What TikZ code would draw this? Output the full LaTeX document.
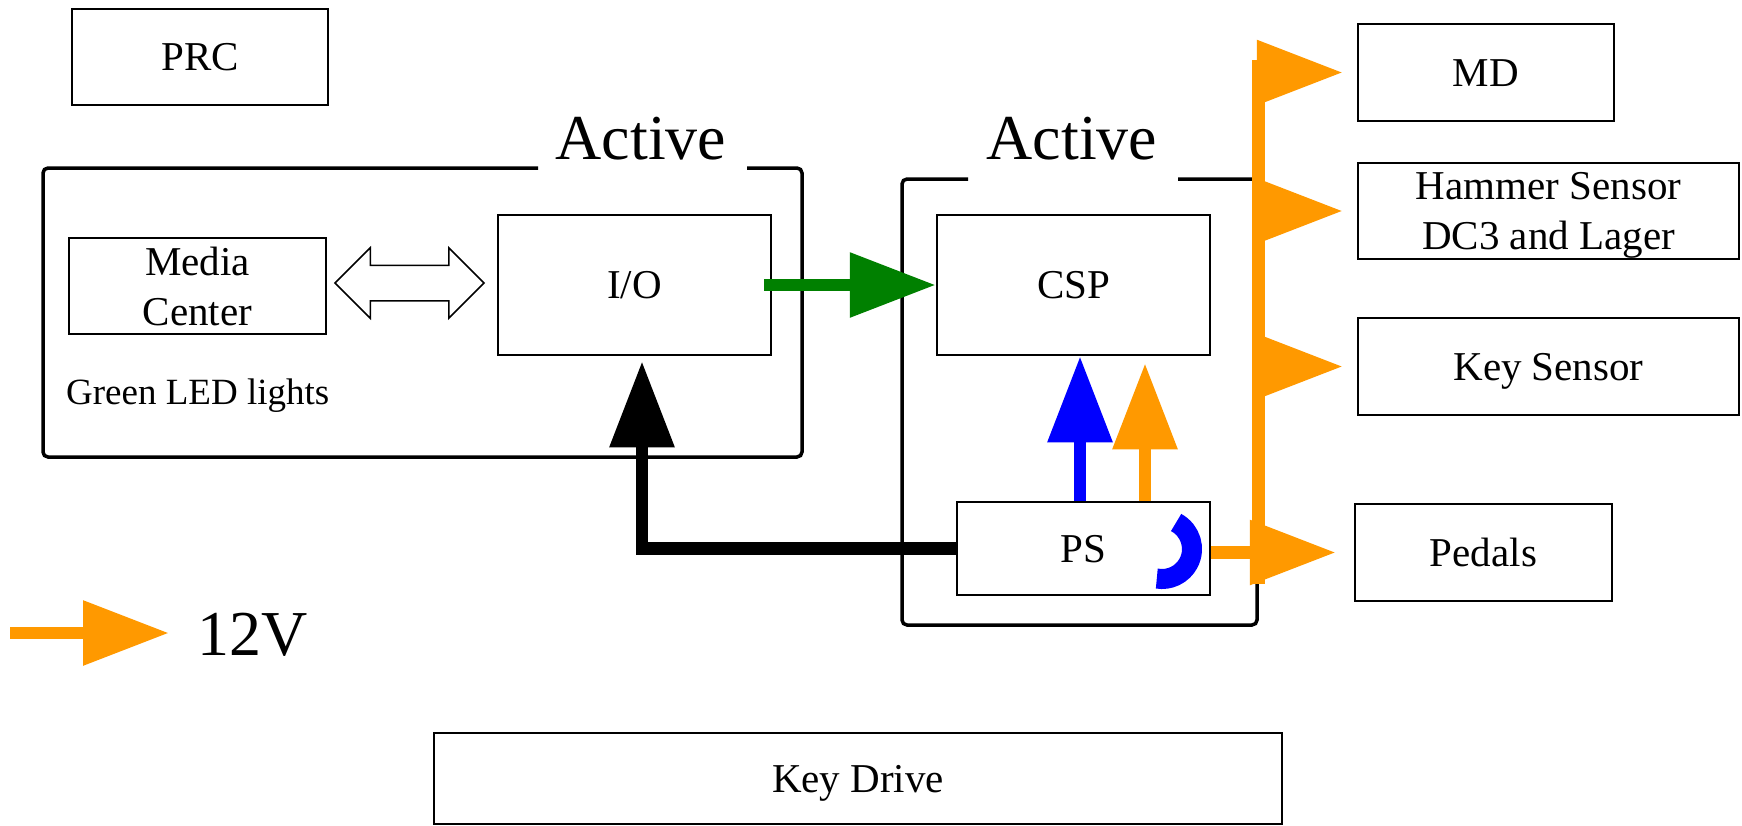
\documentclass[tikz,border=0pt]{standalone}
\usepackage{fontspec}
\setmainfont{Liberation Serif}
\usetikzlibrary{arrows.meta,shapes.arrows,calc}
\definecolor{orng}{RGB}{255,153,0}
\definecolor{grn}{RGB}{0,128,0}
\definecolor{blu}{RGB}{0,0,255}
\tikzset{
  box/.style={draw, line width=2.5pt, inner sep=0pt, font=\fontsize{41}{50}\selectfont, align=center, text depth=0pt},
  onebox/.style={box, text height=27pt},
  fat/.style={line width=12.5pt, -{Triangle[length=86pt,width=62pt]}},
  bigtxt/.style={font=\fontsize{64}{70}\selectfont, inner sep=0pt},
  container/.style={line width=3.5pt, rounded corners=5pt},
}
\begin{document}
\begin{tikzpicture}[x=1pt,y=-1pt]
\useasboundingbox (0,0) rectangle (1742,825);
\fill[white] (0,0) rectangle (1742,825);

% containers
\draw[container] (538,168) -- (43,168) -- (43,457) -- (802,457) -- (802,168) -- (747,168);
\draw[container] (968,179) -- (902,179) -- (902,625) -- (1257,625) -- (1257,179) -- (1178,179);
\node[bigtxt, anchor=base] (act1) at (641,159) {Active};
\node[bigtxt, anchor=base] (act2) at (1072,159) {Active};

% boxes
\node[onebox, minimum width=256pt, minimum height=96pt] (PRC) at (200,57) {PRC};
\node[box, minimum width=257pt, minimum height=96pt] (MC) at (197.5,286) {Media\\Center};
\node[onebox, minimum width=273pt, minimum height=140pt] (IO) at (634.5,285) {I/O};
\node[onebox, minimum width=273pt, minimum height=140pt] (CSP) at (1073.5,285) {CSP};
\node[onebox, minimum width=253pt, minimum height=93pt] (PS) at (1083.5,548.5) {PS};
\node[onebox, minimum width=256pt, minimum height=97pt] (MD) at (1486,72.5) {MD};
\node[box, minimum width=381pt, minimum height=96pt] (HS) at (1548.5,211) {Hammer Sensor\\DC3 and Lager};
\node[onebox, minimum width=381pt, minimum height=97pt] (KS) at (1548.5,366.5) {Key Sensor};
\node[onebox, minimum width=257pt, minimum height=97pt] (PED) at (1483.5,552.5) {Pedals};
\node[onebox, minimum width=848pt, minimum height=91pt] (KD) at (858,778.5) {Key Drive};

\node[font=\fontsize{37}{40}\selectfont, anchor=base west, inner sep=0pt] (led) at (66,404) {Green LED lights};

% double hollow arrow
\node[draw, double arrow, line width=1.5pt, double arrow head extend=17.5pt,
      minimum height=149pt, inner xsep=0pt, inner ysep=17pt, minimum width=0pt] (dbl) at (409.5,283) {};

% green arrow
\draw[fat, grn] ([xshift=-8pt]IO.east) -- (CSP.west);

% black arrow
\coordinate (bk) at (642,0);
\draw[fat, black, shorten >=5pt] (PS.west) -| (IO.south -| bk);

% blue and orange arrows up
\coordinate (bx) at (1080,0);
\coordinate (ox) at (1145,0);
\draw[fat, blu] (PS.north -| bx) -- (CSP.south -| bx);
\draw[fat, orng, shorten >=7pt] (PS.north -| ox) -- (CSP.south -| ox);

% blue arc
\draw[blu, line width=20pt] (1162,549) ++(-62:30) arc[start angle=-62, end angle=100, radius=30];

% orange bus
\coordinate (busTop) at (1258,60);
\coordinate (busBot) at (1258,584);
\draw[orng, line width=13pt] (busTop) -- (busBot);
\draw[fat, orng, shorten >=14pt] (busTop |- MD.west) -- (MD.west);
\draw[fat, orng, shorten >=14pt] (busTop |- HS.west) -- (HS.west);
\draw[fat, orng, shorten >=14pt] (busTop |- KS.west) -- (KS.west);
\draw[fat, orng, shorten >=18pt] (PS.east |- PED.west) -- (PED.west);

% legend
\coordinate (l1) at (10,633);
\coordinate (l2) at (169,633);
\draw[fat, orng] (l1) -- (l2);
\node[bigtxt, anchor=base west] (lv) at (197,655) {12V};
\end{tikzpicture}
\end{document}
